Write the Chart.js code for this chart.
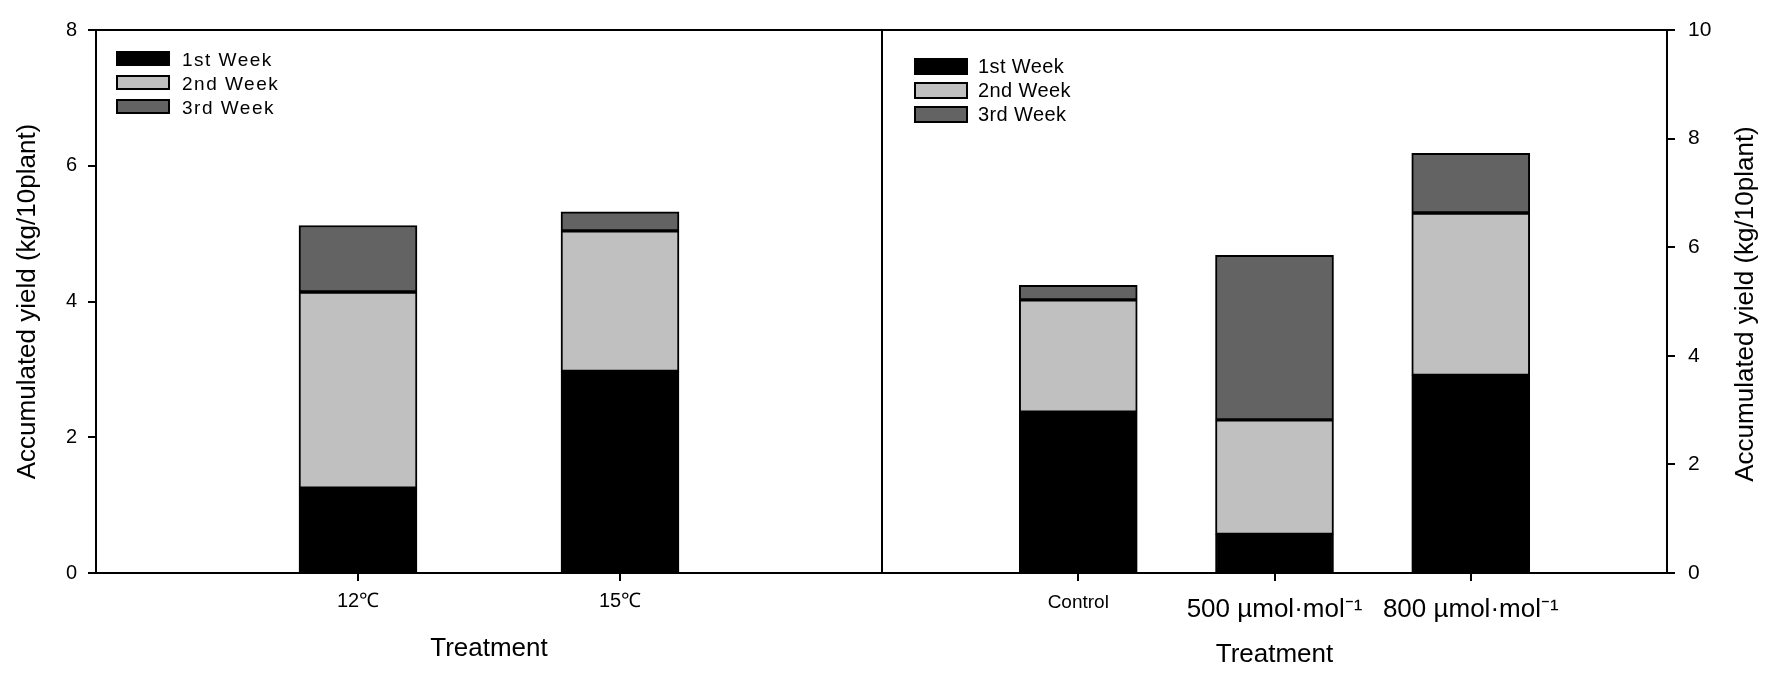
<!DOCTYPE html>
<html>
<head>
<meta charset="utf-8">
<script src="https://cdn.jsdelivr.net/npm/chart.js@4.4.1/dist/chart.umd.min.js"></script>
<style>
  html, body { margin: 0; padding: 0; background: #ffffff; }
  #wrap { position: relative; width: 1775px; height: 675px; overflow: hidden; background: #ffffff; }
  #c1 { position: absolute; left: 0px; top: 0px; }
  #c2 { position: absolute; left: 872px; top: 0px; }
</style>
</head>
<body>
<div id="wrap">
  <canvas id="c1" width="892" height="675" style="width:892px;height:675px"></canvas>
  <canvas id="c2" width="903" height="675" style="width:903px;height:675px"></canvas>
</div>
<script>
// ---------- data ----------
const seriesNames = ['1st Week', '2nd Week', '3rd Week'];

const categoriesLeft = ['12\u2103', '15\u2103'];
const week1Left = [1.25, 2.97];
const week2Left = [2.89, 2.07];
const week3Left = [0.98, 0.28];
const yTicksLeft = [0, 2, 4, 6, 8];

const categoriesRight = ['Control', '500 \u00B5mol\u00B7mol\u207B\u00B9', '800 \u00B5mol\u00B7mol\u207B\u00B9'];
const week1Right = [2.96, 0.71, 3.64];
const week2Right = [2.07, 2.11, 2.99];
const week3Right = [0.27, 3.03, 1.10];
const yTicksRight = [0, 2, 4, 6, 8, 10];

const xTitle = 'Treatment';
const yTitle = 'Accumulated yield (kg/10plant)';

// ---------- styles ----------
const seriesColors = ['#000000', '#c0c0c0', '#636363'];
const FONT = "'Liberation Sans', Arial, sans-serif";
const NARROW = "'Liberation Sans Narrow', 'Liberation Sans', Arial, sans-serif";

// pad category list with empty slots at both ends (axis runs 0..n+1)
function pad(arr, fill) { return [fill].concat(arr, [fill]); }

function makeDatasets(s1, s2, s3) {
  return [s1, s2, s3].map((vals, i) => ({
    label: seriesNames[i],
    data: pad(vals, null),
    backgroundColor: seriesColors[i],
    borderColor: '#000000',
    borderWidth: 2,
    borderSkipped: false,
    barThickness: 118,
    stack: 's'
  }));
}

const framePlugin = {
  id: 'frame',
  afterDatasetsDraw(chart) {
    const { ctx, chartArea: a } = chart;
    ctx.save();
    ctx.strokeStyle = '#000';
    ctx.lineWidth = 2;
    ctx.strokeRect(a.left, a.top, a.right - a.left, a.bottom - a.top);
    ctx.restore();
  }
};

const boxLegendPlugin = {
  id: 'boxLegend',
  afterDraw(chart, args, o) {
    const ctx = chart.ctx;
    ctx.save();
    chart.data.datasets.forEach((ds, i) => {
      const y = o.y + i * o.pitch;
      ctx.fillStyle = ds.backgroundColor;
      ctx.fillRect(o.x, y, o.boxW, o.boxH);
      ctx.strokeStyle = '#000';
      ctx.lineWidth = 2;
      ctx.strokeRect(o.x, y, o.boxW, o.boxH);
      ctx.fillStyle = '#000';
      ctx.font = o.font;
      if ('letterSpacing' in ctx) ctx.letterSpacing = o.letterSpacing || '0px';
      ctx.textBaseline = 'middle';
      ctx.textAlign = 'left';
      ctx.fillText(ds.label, o.textX, y + o.boxH / 2 + o.textDy);
    });
    ctx.restore();
  }
};

const sideTitlePlugin = {
  id: 'sideTitle',
  afterDraw(chart, args, o) {
    if (!o.text) return;
    const ctx = chart.ctx;
    ctx.save();
    ctx.translate(o.x, o.y);
    ctx.rotate(-Math.PI / 2);
    ctx.fillStyle = '#000';
    ctx.font = o.font;
    ctx.textAlign = 'center';
    ctx.textBaseline = 'middle';
    ctx.fillText(o.text, 0, 0);
    ctx.restore();
  }
};

const tickMarkColor = (ctx) => (ctx.tick && ctx.tick.label) ? '#000000' : 'rgba(0,0,0,0)';

// ---------- left chart ----------
new Chart(document.getElementById('c1'), {
  type: 'bar',
  data: { labels: pad(categoriesLeft, ''), datasets: makeDatasets(week1Left, week2Left, week3Left) },
  options: {
    responsive: false,
    animation: false,
    layout: { padding: { top: 30, right: 10, bottom: 0, left: 0 } },
    plugins: {
      legend: { display: false },
      tooltip: { enabled: false },
      boxLegend: { x: 117, y: 52, pitch: 24, boxW: 52, boxH: 13, textX: 182, textDy: 2,
                   font: "19px " + FONT, letterSpacing: '1.5px' },
      sideTitle: { text: '' }
    },
    scales: {
      x: {
        type: 'category', stacked: true, offset: false,
        grid: { offset: false, drawOnChartArea: false, drawTicks: true, tickLength: 8,
                color: tickMarkColor, lineWidth: 2 },
        border: { display: false },
        ticks: { color: '#000', padding: 8, maxRotation: 0, autoSkip: false,
                 font: { family: FONT, size: 20, lineHeight: 1.2 } },
        title: { display: true, text: xTitle, color: '#000',
                 font: { family: FONT, size: 26, lineHeight: 1.2 }, padding: { top: 0, bottom: 11 } },
        afterFit(scale) { scale.height = 102; }
      },
      y: {
        stacked: true, min: yTicksLeft[0], max: yTicksLeft[yTicksLeft.length - 1],
        afterBuildTicks(scale) { scale.ticks = yTicksLeft.map(v => ({ value: v })); },
        grid: { drawOnChartArea: false, drawTicks: true, tickLength: 8, color: '#000', lineWidth: 2 },
        border: { display: false },
        ticks: { color: '#000', padding: 11, font: { family: FONT, size: 20 } },
        title: { display: true, text: yTitle, color: '#000',
                 font: { family: FONT, size: 26, lineHeight: 1.2 }, padding: { top: 12, bottom: 0 } },
        afterFit(scale) { scale.width = 96; }
      }
    }
  },
  plugins: [framePlugin, boxLegendPlugin, sideTitlePlugin]
});

// ---------- right chart ----------
new Chart(document.getElementById('c2'), {
  type: 'bar',
  data: { labels: pad(categoriesRight, ''), datasets: makeDatasets(week1Right, week2Right, week3Right) },
  options: {
    responsive: false,
    animation: false,
    layout: { padding: { top: 30, right: 0, bottom: 0, left: 10 } },
    plugins: {
      legend: { display: false },
      tooltip: { enabled: false },
      boxLegend: { x: 43, y: 59, pitch: 24, boxW: 52, boxH: 15, textX: 106, textDy: 1,
                   font: "20px " + NARROW, letterSpacing: '0.4px' },
      sideTitle: { text: yTitle, x: 874, y: 304, font: "26px " + FONT }
    },
    scales: {
      x: {
        type: 'category', stacked: true, offset: false,
        grid: { offset: false, drawOnChartArea: false, drawTicks: true, tickLength: 8,
                color: tickMarkColor, lineWidth: 2 },
        border: { display: false },
        ticks: {
          color: '#000', padding: 10, maxRotation: 0, autoSkip: false,
          font: (ctx) => ctx.index === 1
            ? { family: FONT, size: 19, lineHeight: 1.2 }
            : { family: FONT, size: 26, lineHeight: 1.42 }
        },
        title: { display: true, text: xTitle, color: '#000',
                 font: { family: FONT, size: 26, lineHeight: 1.2 }, padding: { top: 0, bottom: 5 } },
        afterFit(scale) { scale.height = 102; }
      },
      y: {
        position: 'right',
        stacked: true, min: yTicksRight[0], max: yTicksRight[yTicksRight.length - 1],
        afterBuildTicks(scale) { scale.ticks = yTicksRight.map(v => ({ value: v })); },
        grid: { drawOnChartArea: false, drawTicks: true, tickLength: 8, color: '#000', lineWidth: 2 },
        border: { display: false },
        ticks: { color: '#000', padding: 13, font: { family: NARROW, size: 21 } },
        title: { display: false },
        afterFit(scale) { scale.width = 108; }
      }
    }
  },
  plugins: [framePlugin, boxLegendPlugin, sideTitlePlugin]
});
</script>
</body>
</html>
